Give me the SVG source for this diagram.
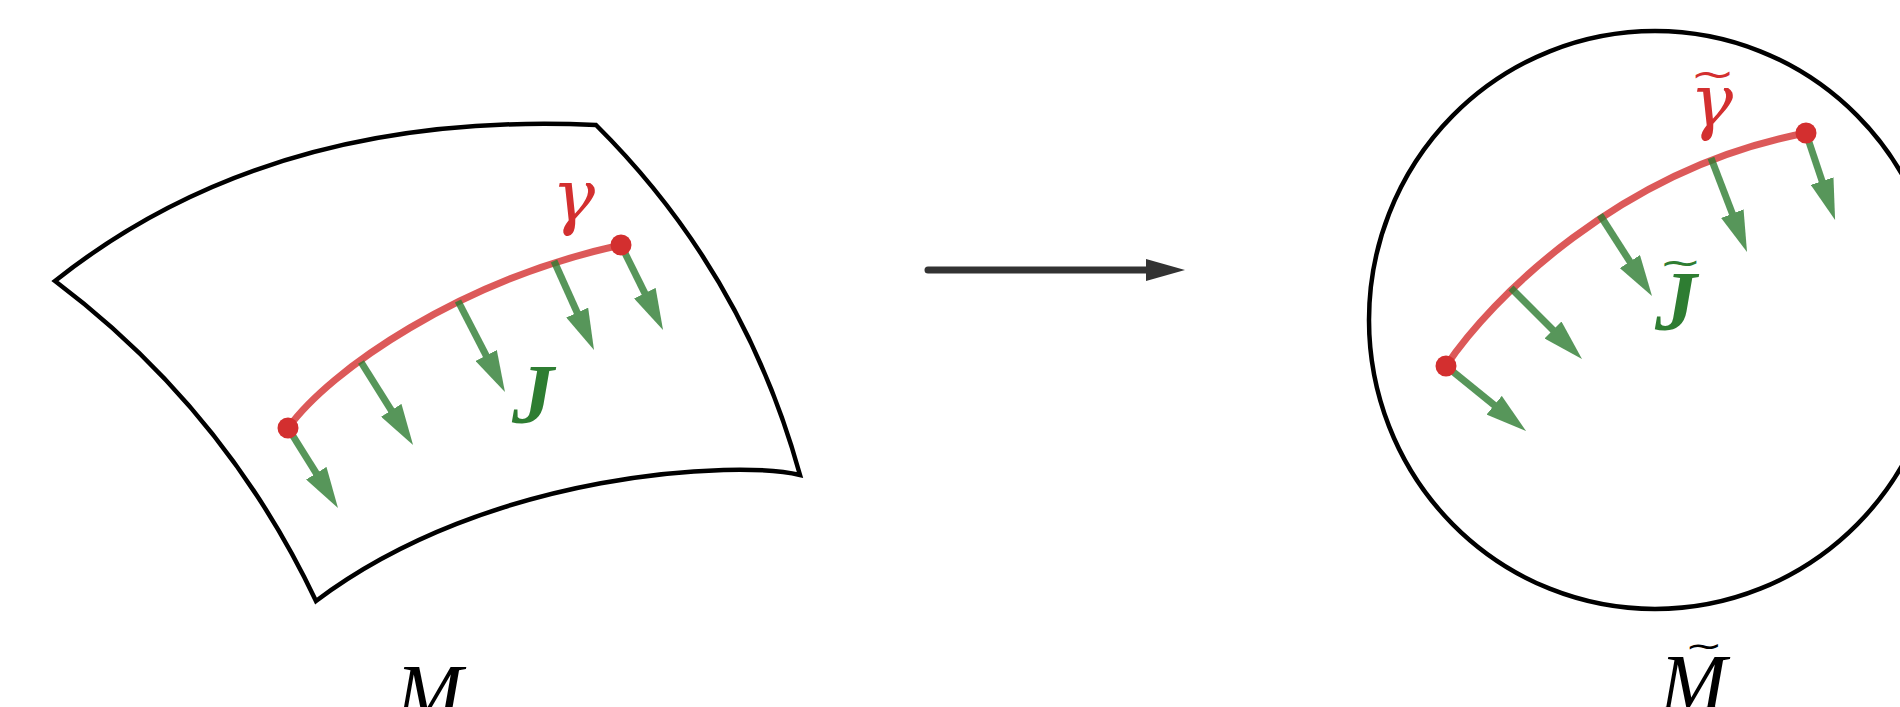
<svg xmlns="http://www.w3.org/2000/svg" width="1900" height="707" viewBox="0 0 1900 707">
  <style>
    .outline { fill: none; stroke: #000; stroke-width: 4.5; stroke-linejoin: miter; }
    .curve { fill: none; stroke: #d32f2f; stroke-width: 7; stroke-linecap: round; opacity: 0.8; }
    .jac { fill: none; stroke: #2e7d32; stroke-width: 7; opacity: 0.8; marker-end: url(#ghead); }
    .dot { fill: #d32f2f; }
    .lbl { font-family: "Liberation Serif", "Times New Roman", serif; font-style: italic; font-size: 80px; }
    .greek { font-family: "DejaVu Serif", "Liberation Serif", serif; font-style: italic; font-size: 72px; }
    .red { fill: #d32f2f; }
    .green { fill: #2e7d32; font-weight: bold; font-size: 84px; }
    .black { fill: #000; }
    .tilde { font-family: "DejaVu Sans", sans-serif; font-style: normal; font-weight: normal; }
    .main { fill: none; stroke: #333; stroke-width: 7; stroke-linecap: round; marker-end: url(#khead); }
  </style>
  <defs>
    <marker id="ghead" markerUnits="userSpaceOnUse" markerWidth="42" markerHeight="24" viewBox="0 0 42 24" refX="1" refY="12" orient="auto">
      <path d="M0,0 L41,12 L0,24 Z" fill="#2e7d32"/>
    </marker>
    <marker id="khead" markerUnits="userSpaceOnUse" markerWidth="40" markerHeight="22" viewBox="0 0 40 22" refX="1" refY="11" orient="auto">
      <path d="M0,0 L39,11 L0,22 Z" fill="#333"/>
    </marker>
  </defs>

  <g id="manifold-M">
    <path class="outline" d="M55,281 Q270,110 596,125 Q744,272 800,475 C740,460 490,470 316,601 Q225,409 55,281 Z"/>
    <path class="curve" d="M288,428 C330,370 460,280 621,245"/>
    <path class="jac" d="M288,428 L316.8,474.1"/>
    <path class="jac" d="M361,362 L391.8,411.1"/>
    <path class="jac" d="M458,301 L486.6,356.4"/>
    <path class="jac" d="M554,261 L577.6,313.5"/>
    <path class="jac" d="M621,245 L645.3,294.1"/>
    <circle class="dot" cx="288" cy="428" r="10.5"/>
    <circle class="dot" cx="621" cy="245" r="10.5"/>
    <text class="greek red" x="552" y="221">γ</text>
    <text class="lbl green" x="512" y="423">J</text>
    <text class="lbl black" x="396" y="720">M</text>
  </g>

  <g id="manifold-Mtilde">
    <ellipse class="outline" cx="1655" cy="320" rx="286" ry="289"/>
    <path class="curve" d="M1446,366 C1490,300 1620,168 1806,133"/>
    <path class="jac" d="M1446,366 L1495,405.8"/>
    <path class="jac" d="M1511,288 L1553.7,330.7"/>
    <path class="jac" d="M1600,215 L1630.4,262.4"/>
    <path class="jac" d="M1711,158 L1732.7,214.6"/>
    <path class="jac" d="M1806,133 L1822.4,182"/>
    <circle class="dot" cx="1446" cy="366" r="10.5"/>
    <circle class="dot" cx="1806" cy="133" r="10.5"/>
    <text class="greek red" x="1690" y="126">γ</text>
    <text class="tilde" fill="#d32f2f" font-size="54" transform="translate(1690,86.5) scale(1,0.7)">~</text>
    <text class="lbl green" x="1655" y="330">J</text>
    <text class="tilde" fill="#2e7d32" font-size="51" transform="translate(1659,275) scale(1,0.7)">~</text>
    <text class="lbl black" x="1660" y="710">M</text>
    <text class="tilde" fill="#000" font-size="45" transform="translate(1685,657) scale(1,0.7)">~</text>
  </g>

  <g id="connectors">
    <path class="main" d="M928,270 L1147,270"/>
  </g>
</svg>
